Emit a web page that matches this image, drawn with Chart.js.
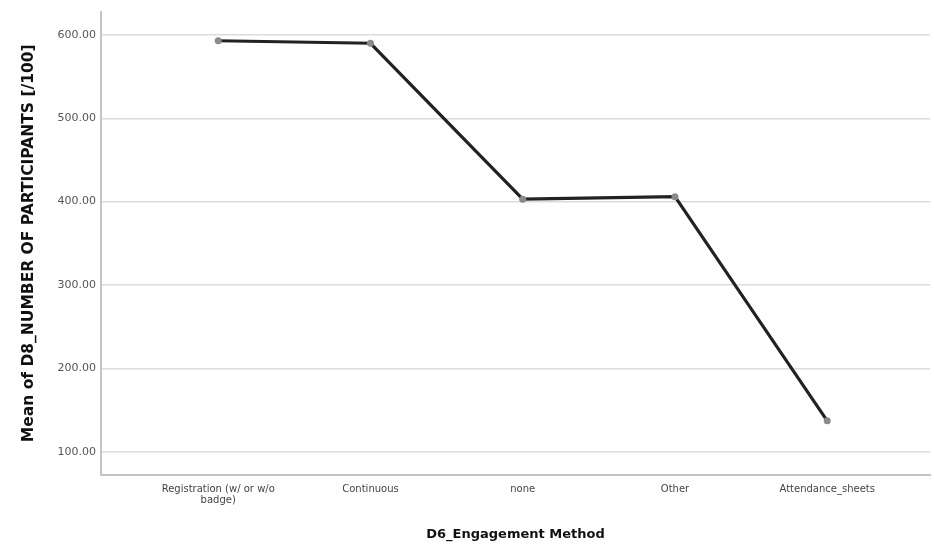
<!DOCTYPE html>
<html>
<head>
<meta charset="utf-8">
<script src="https://cdn.jsdelivr.net/npm/chart.js@4.4.1/dist/chart.umd.min.js"></script>
<style>
  html, body { margin: 0; padding: 0; background: #fff; overflow: hidden; }
  canvas { display: block; }
</style>
</head>
<body>
<canvas id="chart" width="934" height="544"></canvas>
<script>
// categories on the x axis
const methods = [
  ['Registration (w/ or w/o', 'badge)'],
  'Continuous',
  'none',
  'Other',
  'Attendance_sheets'
];
// mean of D8_NUMBER OF PARTICIPANTS [/100]
const meanParticipants = [593, 590, 403, 406, 137];
const yTicks = [100, 200, 300, 400, 500, 600];

const ctx = document.getElementById('chart').getContext('2d');

new Chart(ctx, {
  type: 'line',
  data: {
    datasets: [{
      data: meanParticipants.map((v, i) => ({ x: i, y: v })),
      borderColor: '#222',
      borderWidth: 3.2,
      pointRadius: 3.5,
      pointBackgroundColor: '#8a8a8a',
      pointBorderColor: '#8a8a8a',
      pointBorderWidth: 0,
      tension: 0,
      fill: false
    }]
  },
  options: {
    responsive: false,
    animation: false,
    layout: { padding: { top: 10, right: -4, left: 0, bottom: 0 } },
    plugins: {
      legend: { display: false },
      tooltip: { enabled: false }
    },
    scales: {
      x: {
        type: 'linear',
        min: -0.77,
        max: 4.675,
        afterBuildTicks: (axis) => { axis.ticks = methods.map((m, i) => ({ value: i })); },
        afterFit: (axis) => {
          axis.height = 69;
          axis.paddingLeft = 0;
          axis.paddingRight = 0;
        },
        grid: { display: false, drawTicks: false },
        border: { display: true, color: '#c4c4c4', width: 2 },
        ticks: {
          padding: 9,
          maxRotation: 0,
          autoSkip: false,
          color: '#444',
          font: { family: 'DejaVu Sans', size: 10, lineHeight: 1.1 },
          callback: (v) => methods[v]
        },
        title: {
          display: true,
          text: 'D6_Engagement Method',
          color: '#111',
          font: { family: 'DejaVu Sans', size: 13, weight: 'bold' },
          padding: { top: 0, bottom: 2 }
        }
      },
      y: {
        min: 72,
        max: 628,
        afterBuildTicks: (axis) => { axis.ticks = yTicks.map(v => ({ value: v })); },
        afterFit: (axis) => { axis.width = 101; },
        grid: { color: '#dcdcdc', lineWidth: 1.5, drawTicks: false },
        border: { display: true, color: '#c4c4c4', width: 2 },
        ticks: {
          padding: 5,
          color: '#555',
          font: { family: 'DejaVu Sans', size: 11 },
          callback: (v) => v.toFixed(2)
        },
        title: {
          display: true,
          text: 'Mean of D8_NUMBER OF PARTICIPANTS [/100]',
          color: '#111',
          font: { family: 'DejaVu Sans', size: 15.5, weight: 'bold' },
          padding: { top: 20, bottom: 0 }
        }
      }
    }
  }
});
</script>
</body>
</html>
